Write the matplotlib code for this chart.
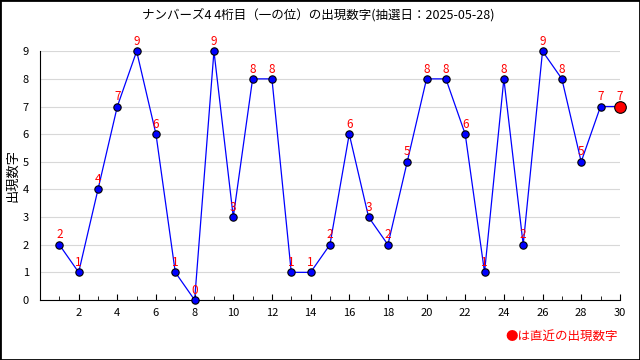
import matplotlib.pyplot as plt
from matplotlib.patches import Rectangle

plt.rcParams['font.family'] = ['Noto Sans CJK JP', 'DejaVu Sans']

# 抽選回 (1-30) と 一の位の出現数字
draws = list(range(1, 31))
digits = [2, 1, 4, 7, 9, 6, 1, 0, 9, 3, 8, 8, 1, 1, 2, 6, 3, 2, 5, 8, 8, 6, 1, 8, 2, 9, 8, 5, 7, 7]
title = 'ナンバーズ4 4桁目（一の位）の出現数字(抽選日：2025-05-28)'

fig = plt.figure(figsize=(6.4, 3.6), dpi=100)
ax = fig.add_axes([0.0625, 0.1667, 0.906, 0.691])

ax.plot(draws, digits, color='blue', linewidth=0.9, zorder=2)
ax.scatter(draws[:-1], digits[:-1], s=28, color='blue', edgecolor='black', linewidth=0.8, zorder=3, clip_on=False)
ax.scatter(draws[-1:], digits[-1:], s=70, color='red', edgecolor='black', linewidth=0.8, zorder=4, clip_on=False)

for x, y in zip(draws, digits):
    ax.text(x, y + 0.12, str(y), color='red', fontsize=8.5, ha='center', va='bottom', zorder=5)

ax.set_xlim(0, 30)
ax.set_ylim(0, 9)
ax.set_xticks(range(2, 31, 2))
ax.set_xticks(range(1, 31), minor=True)
ax.set_yticks(range(0, 10))
ax.tick_params(axis='x', labelsize=8, length=4, direction='in', pad=6)
ax.tick_params(axis='x', which='minor', length=3, direction='in')
ax.tick_params(axis='y', labelsize=8, length=0, pad=8)
ax.grid(axis='y', color='#d8d8d8', linewidth=0.8, zorder=0)
for s in ['top', 'right']:
    ax.spines[s].set_visible(False)
ax.set_ylabel('出現数字', fontsize=9.5)
ax.yaxis.set_label_coords(-0.036, 0.5)

fig.text(0.497, 0.958, title, ha='center', va='center', fontsize=9)
fig.text(0.965, 0.065, '●は直近の出現数字', ha='right', va='center', fontsize=9, color='red')

fig.patches.append(Rectangle((0, 0), 1, 1, transform=fig.transFigure, fill=False,
                             edgecolor='black', linewidth=2, zorder=10))

fig.savefig('out.png', dpi=100)
